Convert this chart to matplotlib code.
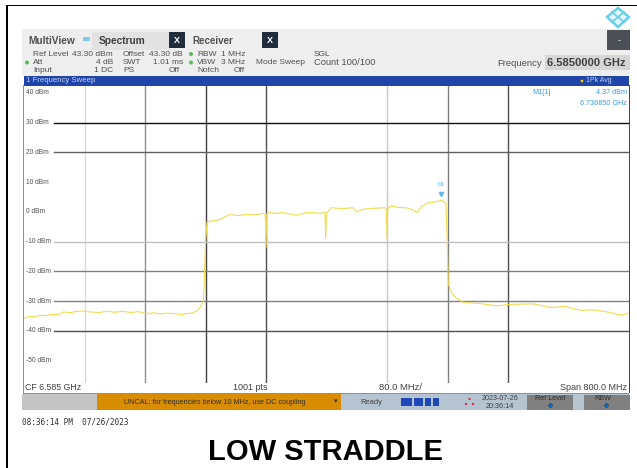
import matplotlib
matplotlib.use('Agg')
from matplotlib import pyplot as plt
from matplotlib.patches import Rectangle, Polygon, Circle

plt.rcParams['font.family'] = ['Liberation Sans', 'DejaVu Sans']

# trace
freq_mhz = [6186, 6192, 6199, 6206, 6213, 6223, 6230, 6237, 6246, 6255, 6263, 6272, 6285, 6294, 6305, 6316,
            6326, 6337, 6346, 6356, 6366, 6374, 6384, 6394, 6401, 6408, 6414, 6418, 6422, 6423, 6425, 6427,
            6434, 6444, 6450, 6457, 6468, 6480, 6490, 6501, 6504, 6505, 6506, 6510, 6518, 6527, 6537, 6546,
            6556, 6567, 6577, 6583, 6584, 6585, 6592, 6606, 6620, 6625, 6633, 6642, 6652, 6662, 6664, 6665,
            6666, 6671, 6681, 6691, 6699, 6705, 6711, 6719, 6728, 6737, 6743, 6745, 6746, 6748, 6751, 6756,
            6765, 6776, 6788, 6800, 6812, 6824, 6840, 6858, 6870, 6881, 6890, 6900, 6912, 6924, 6937, 6951,
            6960, 6969, 6977, 6984]
trace_dbm = [-35.6, -35.1, -35.3, -34.7, -34.9, -34.4, -34.6, -33.6, -33.9, -33.4, -33.3, -33.6, -33.8, -33.4, -33.7, -33.4,
             -33.8, -33.5, -34.2, -33.9, -34.3, -34.0, -34.2, -34.5, -34.1, -34.0, -33.2, -32.0, -30.3, -26.3, -10.5, -3.4,
             -3.0, -2.6, -1.7, -0.9, -1.2, -0.8, -1.0, -0.5, -0.8, -11.9, -0.6, -0.2, -0.5, -0.2, -0.7, -1.1,
             -0.3, -0.2, -0.5, -0.1, -8.8, -0.4, 1.4, 1.1, 1.4, 0.0, 0.9, 1.1, 1.3, 1.4, 1.0, -8.8,
             1.2, 2.0, 1.5, 1.4, 0.7, -0.2, 1.9, 3.0, 3.3, 3.9, 3.0, -12.9, -24.0, -25.5, -27.4, -28.8,
             -30.3, -30.6, -30.8, -31.2, -31.6, -31.1, -31.0, -30.9, -31.5, -32.1, -32.0, -31.7, -32.6, -33.1, -32.9, -33.4,
             -33.8, -34.4, -34.7, -34.0]

marker_freq = 6736.85
marker_dbm = 4.37

x_grid = [6265, 6345, 6425, 6505, 6665, 6745, 6825]
x_grid_colors = ['#d8d8d8', '#909090', '#404040', '#505050', '#c8c8c8', '#808080', '#505050']
y_grid = [30, 20, -10, -20, -30, -40]
y_grid_colors = ['#101010', '#606060', '#c0c0c0', '#808080', '#808080', '#505050']
y_labels = ['40 dBm', '30 dBm', '20 dBm', '10 dBm', '0 dBm', '-10 dBm', '-20 dBm', '-30 dBm', '-40 dBm', '-50 dBm']
y_label_vals = [40, 30, 20, 10, 0, -10, -20, -30, -40, -50]

W, H = 637, 468
fig = plt.figure(figsize=(W / 100, H / 100), dpi=100)

# background layer works in pixels
bg = fig.add_axes([0, 0, 1, 1])
bg.set_xlim(0, W)
bg.set_ylim(H, 0)
bg.axis('off')


def box(x, y, w, h, color):
    bg.add_patch(Rectangle((x, y), w, h, facecolor=color, edgecolor='none'))


def label(x, y, s, size=6, color='#505050', ha='left', **kw):
    bg.text(x, y, s, fontsize=size, color=color, ha=ha, va='center', **kw)


# outer frame
box(6, 5, 2, 463, 'black')
box(6, 5, 631, 1, 'black')

# top panel
box(22, 29, 608, 47, '#eeeeee')
box(92, 32, 78, 18, '#e2e2e2')
box(169, 32, 16, 16, '#1f2d3d')
box(262, 32, 16, 16, '#1f2d3d')
box(607, 30, 23, 20, '#4a5056')
box(545, 55, 85, 15, '#d6d6d6')
box(83, 37, 7, 4, '#7fc8ee')
label(28, 40.5, 'MultiView', 7.3, '#505050', fontweight='bold')
label(99, 40.5, 'Spectrum', 7.3, '#404040', fontweight='bold')
label(177, 40.5, 'X', 6.5, 'white', ha='center', fontweight='bold')
label(192, 40.5, 'Receiver', 7, '#505050', fontweight='bold')
label(270, 40.5, 'X', 6.5, 'white', ha='center', fontweight='bold')
label(619, 40.5, '-', 6.5, 'white', ha='center')

label(33, 54, 'Ref Level')
label(113, 54, '43.30 dBm', ha='right')
label(33, 62.5, 'Att')
label(113, 62.5, '4 dB', ha='right')
label(33, 71, 'Input')
label(113, 71, '1 DC', ha='right')
label(123, 54, 'Offset')
label(183, 54, '43.30 dB', ha='right')
label(123, 62.5, 'SWT')
label(183, 62.5, '1.01 ms', ha='right')
label(123, 71, 'PS')
label(180, 71, 'Off', ha='right')
label(197, 54, 'RBW')
label(245, 54, '1 MHz', ha='right')
label(197, 62.5, 'VBW')
label(245, 62.5, '3 MHz', ha='right')
label(197, 71, 'Notch')
label(245, 71, 'Off', ha='right')
label(256, 62.5, 'Mode Sweep')
label(314, 54, 'SGL')
label(314, 62.5, 'Count 100/100', 6.7)
for cx, cy in [(27, 62.5), (191, 54), (191, 62.5)]:
    bg.add_patch(Circle((cx, cy), 2, facecolor='#5cb85c', edgecolor='none'))
label(497, 63, 'Frequency', 6.8, '#505050')
label(547, 63, '6.5850000 GHz', 8, '#404040', fontweight='bold')

# logo
bg.add_patch(Polygon([(618, 8), (629, 17), (618, 27), (607, 17)], closed=True, facecolor='#e4f6fb',
                     edgecolor='#66d0ea', linewidth=1.8))
bg.plot([612, 624], [12, 22], color='#66d0ea', lw=1.2)
bg.plot([612, 624], [22, 12], color='#66d0ea', lw=1.2)

# blue header and plot frame
box(24, 76, 605, 9.5, '#1f45a8')
label(26, 81, '1 Frequency Sweep', 5.6, '#c8d4f0')
bg.add_patch(Circle((582, 81), 1.8, facecolor='#f0d020', edgecolor='#303030', linewidth=0.4))
label(586, 81, '1Pk Avg', 5, '#c8d4f0')
box(23, 85, 1.2, 308, '#8090b8')
box(628.5, 85, 1.5, 308, '#2048b0')

# footer
label(25, 388, 'CF 6.585 GHz', 6.3, '#404040')
label(233, 388, '1001 pts', 6.5, '#404040')
label(379, 388, '80.0 MHz/', 6.8, '#404040')
label(627, 388, 'Span 800.0 MHz', 6.5, '#404040', ha='right')
box(23, 392.5, 606, 1, '#8090b8')
box(22, 394, 75, 16, '#c4c4c4')
box(97, 394, 244, 16, '#d88c00')
box(341, 394, 289, 16, '#b4c4d0')
box(527, 395, 46, 15, '#808080')
box(584, 395, 46, 15, '#808080')
label(215, 402, 'UNCAL: for frequencies below 10 MHz, use DC coupling', 5.2, '#303030', ha='center')
label(337, 402, '\u25be', 5, '#303030', ha='right')
label(360, 402, 'Ready', 5.4, '#404040')
for sx, sw in [(401, 11), (414, 9), (425, 6), (433, 6)]:
    box(sx, 398, sw, 7.5, '#2048b8')
for cx, cy in [(469.5, 399), (466, 404), (473, 404)]:
    bg.add_patch(Circle((cx, cy), 1.2, facecolor='#e03040', edgecolor='none'))
label(500, 399, '2023-07-26', 5.2, '#404040', ha='center')
label(500, 406, '20:36:14', 5.2, '#404040', ha='center')
label(550, 399, 'Ref Level', 5.2, '#303030', ha='center')
label(603, 399, 'RBW', 5.2, '#303030', ha='center')
for cx in [550.5, 606.5]:
    bg.add_patch(Circle((cx, 405.5), 1.8, facecolor='#1070d0', edgecolor='#103050', linewidth=0.4))

label(22, 422, '08:36:14 PM  07/26/2023', 5.6, '#303030', family=['DejaVu Sans Mono'])
label(326, 452, 'LOW STRADDLE', 21, 'black', ha='center', fontweight='bold')

# spectrum axes
ax = fig.add_axes([24 / W, 1 - 383 / H, 605 / W, (383 - 85.5) / H])
ax.patch.set_alpha(0)
ax.set_xlim(6185, 6985)
ax.set_ylim(-57.5, 42.5)
ax.set_xticks([])
ax.set_yticks([])
for s in ax.spines.values():
    s.set_visible(False)

for f, c in zip(x_grid, x_grid_colors):
    ax.axvline(f, color=c, lw=1, zorder=1)
for v, c in zip(y_grid, y_grid_colors):
    ax.axhline(v, xmin=0.05, color=c, lw=1, zorder=1)
for v, s in zip(y_label_vals, y_labels):
    ax.text(6188, v, s, fontsize=4.8, color='#505050', va='center', zorder=3)

ax.plot(freq_mhz, trace_dbm, color='#f0dc50', lw=0.8, zorder=2)
ax.plot([marker_freq], [marker_dbm + 1.5], marker='v', ms=3, color='#60b8ee', zorder=4)
ax.text(marker_freq, marker_dbm + 5, 'M1', fontsize=3.6, color='#60b8ee', ha='center', va='center', zorder=4)
ax.text(6870, 40, 'M1[1]', fontsize=5.2, color='#3a9ad8', ha='center', va='center')
ax.text(6982, 40, '4.37 dBm', fontsize=5.2, color='#3a9ad8', ha='right', va='center')
ax.text(6982, 36.3, '6.736850 GHz', fontsize=5.2, color='#3a9ad8', ha='right', va='center')

fig.savefig('out.png', dpi=100)
